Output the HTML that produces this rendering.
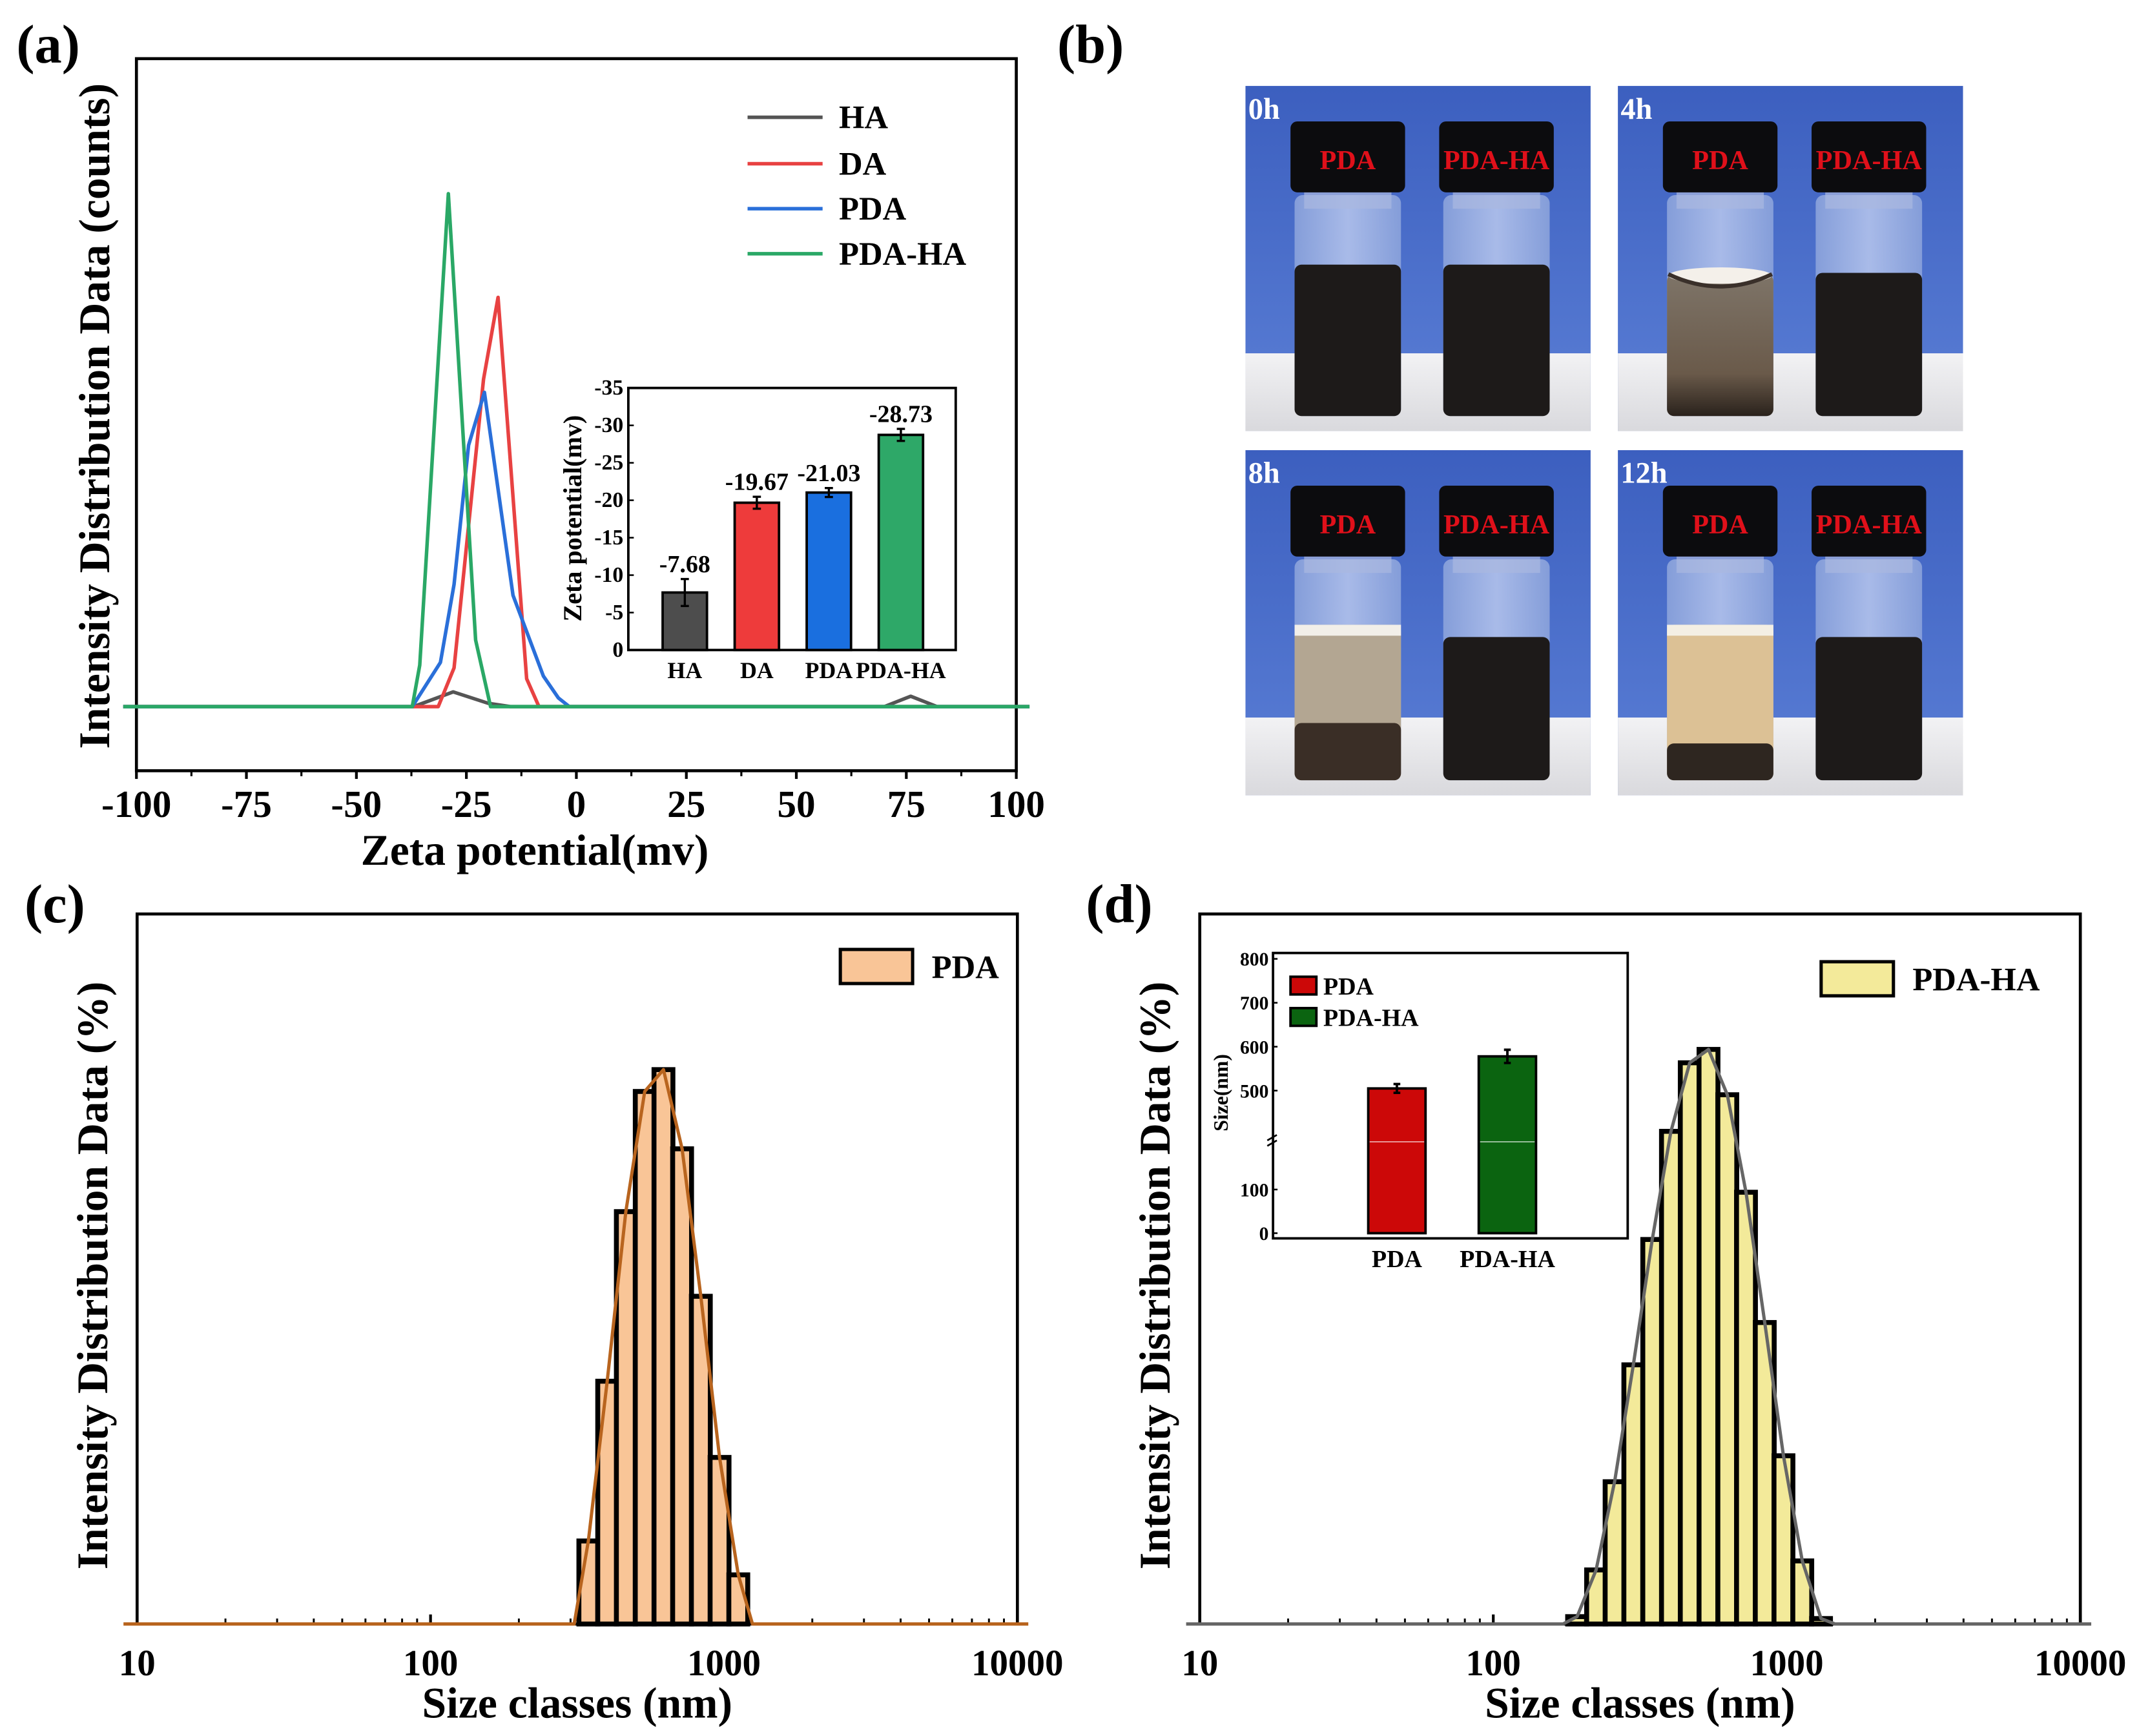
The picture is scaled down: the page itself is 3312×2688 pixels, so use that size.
<!DOCTYPE html>
<html><head><meta charset="utf-8"><style>
html,body{margin:0;padding:0;background:#fff;}
svg{display:block;font-family:"Liberation Serif",serif;font-weight:bold;}
</style></head><body>
<svg id="fig" xmlns="http://www.w3.org/2000/svg" width="3312" height="2688" viewBox="0 0 1568 1272.6">
<defs>
<linearGradient id="bgBlue" x1="0" y1="0" x2="0" y2="1"><stop offset="0" stop-color="#3c5fbf"/><stop offset="1" stop-color="#5b7fd6"/></linearGradient>
<linearGradient id="table" x1="0" y1="0" x2="0" y2="1"><stop offset="0" stop-color="#f2f2f4"/><stop offset="1" stop-color="#d9d9dd"/></linearGradient>
<linearGradient id="glass" x1="0" y1="0" x2="1" y2="0"><stop offset="0" stop-color="#8fa6dc"/><stop offset="0.5" stop-color="#b9c8ee"/><stop offset="1" stop-color="#8fa6dc"/></linearGradient>
<linearGradient id="murky" x1="0" y1="0" x2="0" y2="1"><stop offset="0" stop-color="#7e7468"/><stop offset="0.7" stop-color="#6a5a4a"/><stop offset="1" stop-color="#2a221c"/></linearGradient>
</defs>
<g id="root"></g>
</svg>
<script>
// ---------- Panel (a) data ----------
const aHAx=[-103,-37,-28,-20,-15,70,76,82,103];
const aHAy=[0,0,2.7,0.6,0,0,1.9,0,0];
const aDAx=[-103,-36.8,-31.4,-27.8,-21.1,-17.8,-11.3,-8.5,103];
const aDAy=[0,0,0,7.1,60,75,5.1,0,0];
const aPDAx=[-103,-37.3,-30.9,-27.8,-24.5,-20.9,-14.4,-7.5,-4.1,-1.6,103];
const aPDAy=[0,0,8.1,22.4,47.9,57.6,20.4,5.6,1.6,0,0];
const aPHx=[-103,-37.3,-35.6,-29.1,-22.9,-19.5,103];
const aPHy=[0,0,7.6,94,12.2,0,0];
const aXTicks=[-100,-75,-50,-25,0,25,50,75,100];
const zetaCats=["HA","DA","PDA","PDA-HA"];
const zetaVals=[7.68,19.67,21.03,28.73];
const zetaErr=[1.8,0.8,0.6,0.8];
const zetaLabels=["-7.68","-19.67","-21.03","-28.73"];
const zetaTicks=[0,5,10,15,20,25,30,35];
// ---------- Panel (c)/(d) data ----------
const cSizes=[345,400,463,537,622,720,834,966,1119];
const cInt=[3.04,8.89,15.1,19.5,20.3,17.4,12.0,6.1,1.8];
const dSizes=[193,224,259,300,348,403,467,541,627,726,841,974,1129,1308];
const dInt=[0.27,1.98,5.21,9.49,14.08,18.04,20.55,21.04,19.38,15.81,11.04,6.16,2.31,0.2];
const logTicks=[10,100,1000,10000];
const sizeCats=["PDA","PDA-HA"];
const sizeVals=[505,578];
const sizeErr=[10,15];
const sizeTicks=[0,100,500,600,700,800];

const NS="http://www.w3.org/2000/svg";
const root=document.getElementById('root');
function mk(tag,attrs,parent){const e=document.createElementNS(NS,tag);for(const k in attrs)e.setAttribute(k,attrs[k]);(parent||root).appendChild(e);return e;}
function txt(s,attrs,parent){const e=mk('text',attrs,parent);e.textContent=s;return e;}

// ===== Panel (a) =====
const ga=mk('g',{});


let t=txt('(a)',{x:12,y:46,'font-size':40},ga);


const aX=v=>422.5+v*3.225;
const aY=v=>518-v*4.0;
let fr=mk('rect',{x:100,y:43,width:645,height:522,fill:'none',stroke:'#000','stroke-width':2.2},ga);


for(const v of aXTicks){
  let tk=mk('line',{x1:aX(v),x2:aX(v),y1:565,y2:571,stroke:'#000','stroke-width':2},ga);
  
  
  let tl=txt(String(v),{x:aX(v),y:599,'font-size':28,'text-anchor':'middle'},ga);
  
  
  if(v<100){let m=mk('line',{x1:aX(v+12.5),x2:aX(v+12.5),y1:565,y2:569,stroke:'#000','stroke-width':1.5},ga);
  
  }
}
t=txt('Zeta potential(mv)',{x:392,y:634,'font-size':32,'text-anchor':'middle'},ga);


t=txt('Intensity Distribution Data (counts)',{x:0,y:0,'font-size':32,'text-anchor':'middle',transform:'translate(80,305) rotate(-90)'},ga);


const aSeries=[["HA",aHAx,aHAy,"#555555"],["DA",aDAx,aDAy,"#e84242"],["PDA",aPDAx,aPDAy,"#2a6fd9"],["PDA-HA",aPHx,aPHy,"#2aa866"]];
aSeries.forEach((s,i)=>{
  const pts=s[1].map((x,j)=>aX(x)+','+aY(s[2][j])).join(' ');
  let pl=mk('polyline',{points:pts,fill:'none',stroke:s[3],'stroke-width':2.6,'stroke-linejoin':'round'},ga);
  
  
  const ly=[86,120,153,186][i];
  let ll=mk('line',{x1:548,x2:603,y1:ly,y2:ly,stroke:s[3],'stroke-width':2.6},ga);
  
  
  let lt=txt(s[0],{x:615,y:ly+8,'font-size':24},ga);
  
  
});
// inset (a)
const iaY=v=>476.5-v*5.489;
let iaf=mk('rect',{x:460.6,y:284.4,width:240,height:192.1,fill:'#fff',stroke:'#000','stroke-width':1.8},ga);


for(const v of zetaTicks){
  let tk=mk('line',{x1:460.6,x2:464.6,y1:iaY(v),y2:iaY(v),stroke:'#000','stroke-width':1.2},ga);
  
  
  let tl=txt(v===0?'0':'-'+v,{x:457,y:iaY(v)+5,'font-size':16,'text-anchor':'end'},ga);
  
  
}
t=txt('Zeta potential(mv)',{x:0,y:0,'font-size':19,'text-anchor':'middle',transform:'translate(426,380) rotate(-90)'},ga);


const zCols=["#4d4d4d","#ee3b3b","#1a6fdf","#2ea868"];
zetaVals.forEach((v,i)=>{
  const cx=502+i*52.8, w=32.5;
  let b=mk('rect',{x:cx-w/2,y:iaY(v),width:w,height:476.5-iaY(v),fill:zCols[i],stroke:'#000','stroke-width':1.8},ga);
  
  
  let e=mk('path',{d:`M${cx},${iaY(v+zetaErr[i])}V${iaY(v-zetaErr[i])}M${cx-3},${iaY(v+zetaErr[i])}h6M${cx-3},${iaY(v-zetaErr[i])}h6`,stroke:'#000','stroke-width':1.6,fill:'none'},ga);
  
  
  let vl=txt(zetaLabels[i],{x:cx,y:iaY(v+zetaErr[i])-5,'font-size':18,'text-anchor':'middle'},ga);
  
  
  let cl=txt(zetaCats[i],{x:cx,y:497,'font-size':17,'text-anchor':'middle'},ga);
  
  
});

// ===== Panel (b) photos =====
const gb=mk('g',{});


t=txt('(b)',{x:775,y:46,'font-size':40},gb);


function vial(g,x,label,state){
  const w=84;
  mk('rect',{x:x+3,y:80,width:w-6,height:162,rx:6,fill:'url(#glass)',opacity:0.85},g);
  if(state==='dark'){mk('rect',{x:x+3,y:131,width:w-6,height:111,rx:5,fill:'#1d1a19'},g);}
  else if(state==='dark4'){mk('rect',{x:x+3,y:137,width:w-6,height:105,rx:5,fill:'#1d1a19'},g);}
  else if(state==='4h'){mk('rect',{x:x+3,y:138,width:w-6,height:104,rx:5,fill:'url(#murky)'},g);
    mk('ellipse',{cx:x+w/2,cy:139,rx:w/2-4,ry:6,fill:'#f4f0ea'},g);
    mk('path',{d:`M${x+4},138 Q${x+w/2},156 ${x+w-4},138`,stroke:'#3a302a','stroke-width':3,fill:'none'},g);}
  else if(state==='8h'){mk('rect',{x:x+3,y:128,width:w-6,height:114,rx:5,fill:'#b3a692'},g);
    mk('rect',{x:x+3,y:128,width:w-6,height:8,fill:'#f2efe9'},g);
    mk('rect',{x:x+3,y:200,width:w-6,height:42,rx:5,fill:'#3a2e26'},g);}
  else if(state==='12h'){mk('rect',{x:x+3,y:128,width:w-6,height:114,rx:5,fill:'#dcc195'},g);
    mk('rect',{x:x+3,y:128,width:w-6,height:8,fill:'#f4efe4'},g);
    mk('rect',{x:x+3,y:215,width:w-6,height:27,rx:5,fill:'#2e2620'},g);}
  mk('rect',{x:x+10,y:76,width:w-20,height:14,fill:'#aab8e0',opacity:0.7},g);
  let cap=mk('rect',{x:x,y:26,width:w,height:52,rx:5,fill:'#0c0c0e'},g);
  
  
  let ct=txt(label,{x:x+w/2,y:61,'font-size':20,fill:'#e0101a','text-anchor':'middle'},g);
  
  
}
function photo(x0,y0,tl,pdaState,haState){
  const g=mk('g',{transform:`translate(${x0},${y0})`},gb);
  
  
  mk('rect',{x:0,y:0,width:253,height:253,fill:'url(#bgBlue)'},g);
  mk('rect',{x:0,y:196,width:253,height:57,fill:'url(#table)'},g);
  vial(g,33,'PDA',pdaState);
  vial(g,142,'PDA-HA',haState);
  let l=txt(tl,{x:2,y:24,'font-size':22,fill:'#fff'},g);
  
  
}
photo(913,63,'0h','dark','dark');
photo(1186,63,'4h','4h','dark4');
photo(913,330,'8h','8h','dark4');
photo(1186,330,'12h','12h','dark4');

// ===== Size distribution panels =====
const PITCH=0.0644;
function sizePanel(name,lab,labX,L,R,sizes,ints,fill,lineCol,legend,legBox){
  const g=mk('g',{});
  
  
  const T=670, B=1190.5, dec=(R-L)/3;
  const X=v=>L+(Math.log10(v)-1)*dec;
  const Y=v=>B-v*20.02;
  let p=txt(lab,{x:labX,y:676,'font-size':40},g);
  
  
  let f=mk('rect',{x:L,y:T,width:R-L,height:B-T,fill:'none',stroke:'#000','stroke-width':2.2},g);
  
  
  for(const v of logTicks){
    let tk=mk('line',{x1:X(v),x2:X(v),y1:B,y2:B-7,stroke:'#000','stroke-width':2},g);
    
    
    let tl=txt(String(v),{x:X(v),y:1228,'font-size':27,'text-anchor':'middle'},g);
    
    
    if(v<10000)for(let k=2;k<10;k++){let m=mk('line',{x1:X(v*k),x2:X(v*k),y1:B,y2:B-4,stroke:'#000','stroke-width':1.4},g);
      
      }
  }
  let xt=txt('Size classes (nm)',{x:(L+R)/2,y:1259,'font-size':32,'text-anchor':'middle'},g);
  
  
  let yt=txt('Intensity Distribution Data (%)',{x:0,y:0,'font-size':32,'text-anchor':'middle',transform:`translate(${L-22},935) rotate(-90)`},g);
  
  
  sizes.forEach((s,i)=>{
    const lc=Math.log10(s);
    const x1=L+(lc-PITCH/2-1)*dec, x2=L+(lc+PITCH/2-1)*dec;
    let b=mk('rect',{x:x1,y:Y(ints[i]),width:x2-x1,height:B-Y(ints[i]),fill:fill,stroke:'#000','stroke-width':3.6},g);
    
    
  });
  const first=Math.log10(sizes[0])-PITCH*0.75, last=Math.log10(sizes[sizes.length-1])+PITCH*0.75;
  let pts=[[L-10,B],[L+(first-1)*dec,B]];
  sizes.forEach((s,i)=>pts.push([X(s),Y(ints[i])]));
  pts.push([L+(last-1)*dec,B],[R+8,B]);
  let pl=mk('polyline',{points:pts.map(p=>p.join(',')).join(' '),fill:'none',stroke:lineCol,'stroke-width':2.4,'stroke-linejoin':'round'},g);
  
  
  let lb=mk('rect',{x:legBox[0],y:legBox[1],width:legBox[2],height:legBox[3],fill:fill,stroke:'#000','stroke-width':2.4},g);
  
  
  let lt=txt(legend,{x:legBox[0]+legBox[2]+14,y:legBox[1]+21,'font-size':24},g);
  
  
  return g;
}
sizePanel('c','(c)',18,100.5,745.8,cSizes,cInt,'#f9c597','#b8641e','PDA',[616,696,53,25]);
const gd=sizePanel('d','(d)',796,879.5,1525,dSizes,dInt,'#f3ea9a','#666666','PDA-HA',[1335,705,53,25]);

// inset (d)
const idY=v=> v<=300 ? 904-v*0.32 : 799.5-(v-500)*0.322;
let idf=mk('rect',{x:933.2,y:698.6,width:260,height:209.2,fill:'#fff',stroke:'#000','stroke-width':1.8},gd);


for(const v of sizeTicks){
  let tk=mk('line',{x1:933.2,x2:936.5,y1:idY(v),y2:idY(v),stroke:'#000','stroke-width':1.2},gd);
  
  
  let tl=txt(String(v),{x:930,y:idY(v)+5,'font-size':14,'text-anchor':'end'},gd);
  
  
}
let brk=mk('path',{d:'M929,840 l7,-4 M929,836 l7,-4',stroke:'#000','stroke-width':1.3},gd);


t=txt('Size(nm)',{x:0,y:0,'font-size':15,'text-anchor':'middle',transform:'translate(900,801) rotate(-90)'},gd);


const sCols=["#cc0808","#0b6410"];
sizeVals.forEach((v,i)=>{
  const cx=1024+i*81, w=42;
  let b=mk('rect',{x:cx-w/2,y:idY(v),width:w,height:904-idY(v),fill:sCols[i],stroke:'#000','stroke-width':1.8},gd);
  
  
  mk('line',{x1:cx-w/2+1,x2:cx+w/2-1,y1:837,y2:837,stroke:'#fff','stroke-width':0.8,opacity:0.7},gd);
  let e=mk('path',{d:`M${cx},${idY(v+sizeErr[i])}V${idY(v-sizeErr[i])}M${cx-2.5},${idY(v+sizeErr[i])}h5M${cx-2.5},${idY(v-sizeErr[i])}h5`,stroke:'#000','stroke-width':1.8,fill:'none'},gd);
  
  
  let cl=txt(sizeCats[i],{x:cx,y:929,'font-size':18,'text-anchor':'middle'},gd);
  
  
  let sw=mk('rect',{x:946,y:716+i*23,width:19,height:13,fill:sCols[i],stroke:'#000','stroke-width':1.8},gd);
  
  
  let lt=txt(sizeCats[i],{x:970,y:729+i*23,'font-size':18},gd);
  
  
});
</script>
</body></html>
